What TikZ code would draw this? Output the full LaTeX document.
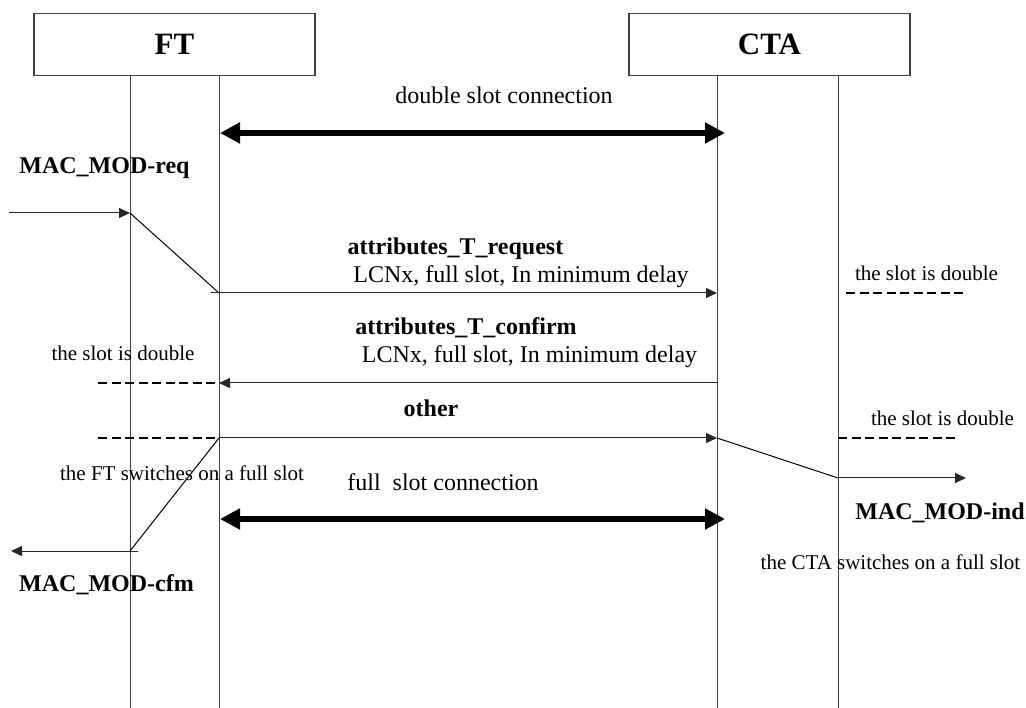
\documentclass[tikz,border=0pt]{standalone}
\usepackage{fontspec}
\setmainfont{Liberation Serif}
\usetikzlibrary{arrows.meta}
\tikzset{
    entity-box/.style = {draw=black!75, line width=1.2pt, rectangle, minimum width=281pt, minimum height=62pt, font=\fontsize{31}{36}\selectfont\bfseries},
    life-line/.style = {draw=black!75, line width=1pt},
    msg-arrow/.style = {draw=black!85, line width=1pt, -{Triangle[length=11pt,width=10pt]}},
    slot-arrow/.style = {draw=black, line width=6pt, {Triangle[length=20pt,width=20pt]}-{Triangle[length=20pt,width=20pt]}},
    slot-dash/.style = {draw=black, line width=2pt, dash pattern=on 9pt off 4.5pt},
    msg-title/.style = {inner sep=0pt, font=\fontsize{24}{28}\selectfont\bfseries},
    msg-text/.style = {inner sep=0pt, font=\fontsize{24}{28}\selectfont},
    note-text/.style = {inner sep=0pt, font=\fontsize{21}{25}\selectfont},
}

\begin{document}
\begin{tikzpicture}[x=1pt,y=-1pt]
\useasboundingbox (0,0) rectangle (1026,708);
\node[entity-box] (ft) at (174.5,44.5) {FT};
\node[entity-box] (cta) at (769.5,44.5) {CTA};

% life lines
\coordinate (ft-l-top) at (130,75);   \coordinate (ft-l-bot) at (130,708);
\coordinate (ft-r-top) at (219,75);   \coordinate (ft-r-bot) at (219,708);
\coordinate (cta-l-top) at (717,75);  \coordinate (cta-l-bot) at (717,708);
\coordinate (cta-r-top) at (838,75);  \coordinate (cta-r-bot) at (838,708);
\draw[life-line] (ft-l-top) -- (ft-l-bot);
\draw[life-line] (ft-r-top) -- (ft-r-bot);
\draw[life-line] (cta-l-top) -- (cta-l-bot);
\draw[life-line] (cta-r-top) -- (cta-r-bot);

% double slot connection
\coordinate (dbl-l) at (220,133);
\coordinate (dbl-r) at (725,133);
\draw[slot-arrow] (dbl-l) -- (dbl-r);
\node[msg-text] (dbl-lbl) at (504,95) {double slot connection};

% MAC_MOD-req
\node[msg-title] (req-lbl) at (104.5,168) {MAC\_MOD-req};
\coordinate (req-in) at (9,213);
\coordinate (req-ft) at (130,213);
\coordinate (req-bend) at (219,293);
\draw[msg-arrow] (req-in) -- (req-ft);
\draw[draw=black, line width=1pt] (req-ft) -- (req-bend);

% attributes_T_request
\coordinate (areq-start) at (211,293);
\coordinate (areq-end) at (717,293);
\draw[msg-arrow] (areq-start) -- (areq-end);
\node[msg-title] (areq-lbl) at (455.5,249) {attributes\_T\_request};
\node[msg-text] (areq-par) at (521,277) {LCNx, full slot, In minimum delay};
\node[note-text] (cta-dbl1) at (926.5,273) {the slot is double};
\coordinate (cta-dbl1-l) at (846,293);
\coordinate (cta-dbl1-r) at (967,293);
\draw[slot-dash] (cta-dbl1-l) -- (cta-dbl1-r);

% attributes_T_confirm
\coordinate (acfm-start) at (717,383);
\coordinate (acfm-end) at (219,383);
\draw[msg-arrow] (acfm-start) -- (acfm-end);
\node[msg-title] (acfm-lbl) at (466,328) {attributes\_T\_confirm};
\node[msg-text] (acfm-par) at (529.5,357) {LCNx, full slot, In minimum delay};
\node[note-text] (ft-dbl) at (123,353) {the slot is double};
\coordinate (ft-dbl1-l) at (98,383);
\draw[slot-dash] (ft-dbl1-l) -- (acfm-end);

% other
\coordinate (oth-start) at (219,438);
\coordinate (oth-end) at (717,438);
\draw[msg-arrow] (oth-start) -- (oth-end);
\node[msg-title] (oth-lbl) at (431,408) {other};
\coordinate (ft-dbl2-l) at (98,438);
\draw[slot-dash] (ft-dbl2-l) -- (oth-start);
\node[note-text] (cta-dbl2) at (942.5,418) {the slot is double};
\coordinate (cta-dbl2-l) at (838,438);
\coordinate (cta-dbl2-r) at (959,438);
\draw[slot-dash] (cta-dbl2-l) -- (cta-dbl2-r);

% MAC_MOD-ind
\coordinate (ind-bend) at (838,478);
\coordinate (ind-out) at (966,478);
\draw[draw=black, line width=1pt] (oth-end) -- (ind-bend);
\draw[msg-arrow] (ind-bend) -- (ind-out);
\node[msg-title] (ind-lbl) at (940,513) {MAC\_MOD-ind};
\node[note-text] (cta-full) at (890.5,562) {the CTA switches on a full slot};

% MAC_MOD-cfm
\coordinate (cfm-bend) at (130,551);
\coordinate (cfm-start) at (138,551);
\coordinate (cfm-out) at (11,551);
\draw[draw=black, line width=1pt] (oth-start) -- (cfm-bend);
\draw[msg-arrow] (cfm-start) -- (cfm-out);
\node[note-text] (ft-full) at (182,473) {the FT switches on a full slot};
\node[msg-title] (cfm-lbl) at (106.5,585) {MAC\_MOD-cfm};

% full slot connection
\coordinate (full-l) at (220,519);
\coordinate (full-r) at (725,519);
\draw[slot-arrow] (full-l) -- (full-r);
\node[msg-text] (full-lbl) at (443,482) {full\ \ slot connection};
\end{tikzpicture}
\end{document}
